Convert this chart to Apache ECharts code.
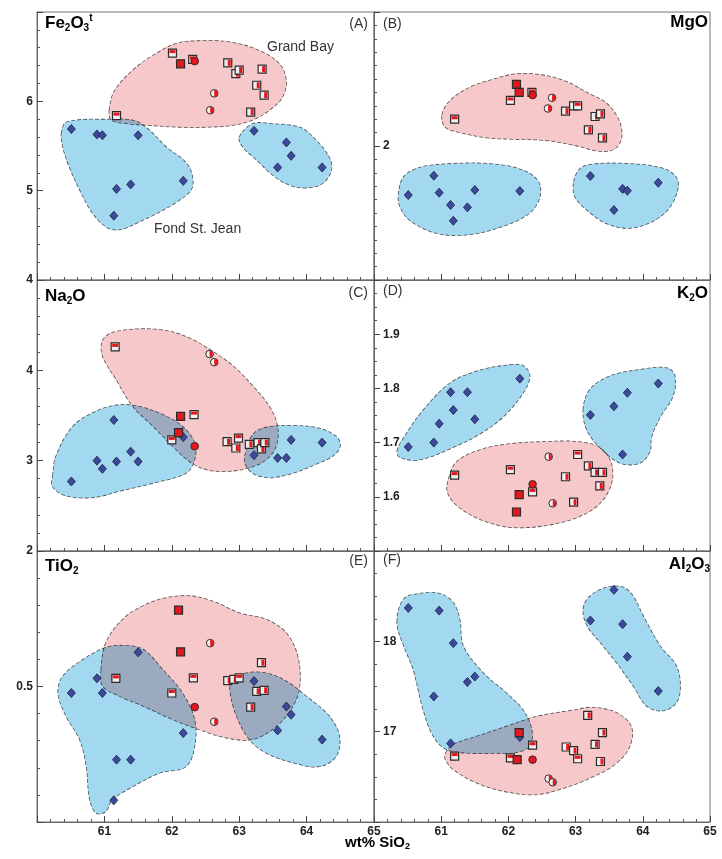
<!DOCTYPE html>
<html>
<head>
<meta charset="utf-8">
<script src="https://cdn.jsdelivr.net/npm/echarts@6.0.0/dist/echarts.min.js"></script>
<style>
  html, body { margin: 0; padding: 0; background: #fff; }
  #chart { width: 722px; height: 859px; }
</style>
</head>
<body>
<div id="chart"></div>
<script>
// Fond St. Jean samples (blue diamonds): one SiO2 value per sample, one array per oxide
const fsjSiO2  = [60.51, 60.89, 60.97, 61.14, 61.18, 61.39, 61.50, 62.17, 63.22, 63.57, 63.70, 63.77, 64.23];
const fsjFe2O3 = [5.69, 5.63, 5.62, 4.72, 5.02, 5.07, 5.62, 5.11, 5.67, 5.26, 5.54, 5.39, 5.26];
const fsjMgO   = [1.817, 1.889, 1.826, 1.78, 1.721, 1.771, 1.836, 1.832, 1.888, 1.761, 1.840, 1.833, 1.863];
const fsjNa2O  = [2.77, 3.00, 2.91, 3.45, 2.99, 3.10, 2.99, 3.26, 3.06, 3.03, 3.03, 3.23, 3.20];
const fsjK2O   = [1.692, 1.70, 1.735, 1.793, 1.76, 1.793, 1.743, 1.818, 1.751, 1.767, 1.678, 1.792, 1.809];
const fsjTiO2  = [0.488, 0.515, 0.488, 0.29, 0.365, 0.365, 0.563, 0.414, 0.51, 0.419, 0.463, 0.448, 0.402];
const fsjAl2O3 = [18.37, 17.39, 18.34, 16.87, 17.98, 17.55, 17.61, 16.94, 18.23, 18.57, 18.19, 17.83, 17.45];

// Grand Bay samples: [SiO2, oxide, marker]  F = red square, V = right half red, H = top half red, C = red circle, c = half circle
const gbFe2O3 = [[61.18,5.84,'H'],[62.01,6.54,'H'],[62.13,6.42,'F'],[62.31,6.47,'H'],[62.34,6.45,'C'],[62.57,5.90,'c'],[62.63,6.09,'c'],[62.83,6.43,'V'],[62.95,6.31,'V'],[63.00,6.35,'V'],[63.17,5.88,'V'],[63.26,6.18,'V'],[63.34,6.36,'V'],[63.37,6.07,'V']];
const gbMgO   = [[61.20,2.10,'H'],[62.03,2.17,'H'],[62.12,2.23,'F'],[62.16,2.20,'F'],[62.35,2.20,'H'],[62.36,2.19,'C'],[62.59,2.14,'c'],[62.65,2.18,'c'],[62.85,2.13,'V'],[62.97,2.15,'V'],[63.03,2.15,'H'],[63.19,2.06,'V'],[63.29,2.11,'V'],[63.37,2.12,'V'],[63.40,2.03,'V']];
const gbNa2O  = [[61.16,4.26,'H'],[62.00,3.23,'H'],[62.10,3.31,'F'],[62.13,3.49,'F'],[62.33,3.51,'H'],[62.34,3.16,'C'],[62.56,4.18,'c'],[62.63,4.09,'c'],[62.82,3.21,'V'],[62.95,3.14,'V'],[62.99,3.25,'H'],[63.15,3.18,'V'],[63.28,3.20,'V'],[63.33,3.13,'V'],[63.38,3.20,'V']];
const gbK2O   = [[61.20,1.640,'H'],[62.03,1.650,'H'],[62.12,1.572,'F'],[62.16,1.604,'F'],[62.36,1.609,'H'],[62.36,1.623,'C'],[62.60,1.674,'c'],[62.66,1.588,'c'],[62.85,1.637,'V'],[62.97,1.590,'V'],[63.03,1.678,'H'],[63.19,1.657,'V'],[63.29,1.645,'V'],[63.36,1.620,'V'],[63.40,1.645,'V']];
const gbTiO2  = [[61.17,0.515,'H'],[62.00,0.488,'H'],[62.10,0.641,'F'],[62.13,0.564,'F'],[62.32,0.516,'H'],[62.34,0.462,'C'],[62.57,0.580,'c'],[62.63,0.435,'c'],[62.83,0.511,'V'],[62.92,0.513,'V'],[63.00,0.516,'H'],[63.17,0.462,'V'],[63.26,0.491,'V'],[63.33,0.544,'V'],[63.37,0.493,'V']];
const gbAl2O3 = [[61.20,16.73,'H'],[62.03,16.71,'H'],[62.13,16.69,'F'],[62.16,16.99,'F'],[62.36,16.85,'H'],[62.36,16.69,'C'],[62.60,16.48,'c'],[62.66,16.44,'c'],[62.86,16.83,'V'],[62.97,16.79,'V'],[63.03,16.70,'H'],[63.18,17.18,'V'],[63.29,16.86,'V'],[63.37,16.67,'V'],[63.40,16.99,'V']];

// field outlines, in data units
const feBlueL = [[60.36,5.64],[60.44,5.77],[61.08,5.80],[61.42,5.79],[61.62,5.71],[61.92,5.49],[62.22,5.31],[62.31,5.15],[62.29,5.01],[62.11,4.89],[61.82,4.76],[61.52,4.65],[61.22,4.56],[61.03,4.59],[60.82,4.75],[60.63,5.01],[60.48,5.26],[60.38,5.49]];
const feBlueR = [[63.00,5.60],[63.20,5.75],[63.49,5.75],[63.90,5.71],[64.15,5.56],[64.34,5.37],[64.37,5.23],[64.24,5.08],[64.00,5.03],[63.75,5.06],[63.50,5.17],[63.26,5.34],[63.05,5.49]];
const fePink  = [[61.07,5.90],[61.15,6.12],[61.42,6.35],[61.71,6.51],[62.07,6.65],[62.51,6.68],[62.90,6.66],[63.30,6.57],[63.60,6.42],[63.70,6.23],[63.64,6.04],[63.45,5.90],[63.20,5.79],[62.90,5.73],[62.51,5.71],[62.11,5.71],[61.67,5.73],[61.33,5.75],[61.10,5.79]];

const mgBlueL = [[60.36,1.817],[60.44,1.885],[60.68,1.92],[61.18,1.935],[61.78,1.933],[62.22,1.91],[62.45,1.867],[62.47,1.81],[62.32,1.75],[61.92,1.70],[61.38,1.668],[60.93,1.674],[60.54,1.72],[60.39,1.77]];
const mgBlueR = [[62.97,1.867],[63.07,1.917],[63.26,1.933],[63.76,1.935],[64.26,1.92],[64.48,1.89],[64.53,1.848],[64.40,1.77],[64.16,1.72],[63.81,1.693],[63.46,1.71],[63.17,1.76],[62.99,1.81]];
const mgPink  = [[61.01,2.116],[61.13,2.17],[61.43,2.22],[61.78,2.25],[62.12,2.27],[62.52,2.265],[62.87,2.24],[63.17,2.20],[63.46,2.16],[63.64,2.10],[63.69,2.035],[63.59,1.99],[63.36,1.98],[63.02,2.00],[62.57,2.02],[62.07,2.025],[61.68,2.03],[61.28,2.05],[61.06,2.07]];

const naBlueL = [[60.23,2.83],[60.28,3.05],[60.53,3.38],[60.88,3.55],[61.22,3.62],[61.52,3.60],[61.87,3.51],[62.16,3.38],[62.34,3.20],[62.34,3.01],[62.21,2.86],[61.72,2.75],[61.22,2.66],[60.83,2.59],[60.43,2.61],[60.23,2.71]];
const naBlueR = [[63.08,3.05],[63.20,3.29],[63.40,3.37],[63.80,3.39],[64.19,3.36],[64.44,3.27],[64.50,3.16],[64.39,3.05],[64.14,2.96],[63.80,2.86],[63.45,2.81],[63.20,2.86],[63.09,2.96]];
const naPink  = [[60.97,4.33],[61.12,4.42],[61.52,4.46],[61.92,4.44],[62.26,4.36],[62.61,4.21],[62.91,4.05],[63.20,3.83],[63.45,3.60],[63.57,3.38],[63.55,3.16],[63.40,3.01],[63.15,2.92],[62.81,2.88],[62.51,2.90],[62.26,2.99],[62.01,3.16],[61.72,3.38],[61.42,3.60],[61.17,3.90],[60.97,4.16]];

const kBlueL = [[60.34,1.684],[60.44,1.709],[60.73,1.760],[61.13,1.810],[61.53,1.832],[61.97,1.843],[62.22,1.842],[62.32,1.823],[62.22,1.791],[61.92,1.747],[61.58,1.716],[61.18,1.691],[60.68,1.668],[60.39,1.672]];
const kBlueR = [[63.11,1.760],[63.21,1.798],[63.51,1.823],[63.96,1.835],[64.36,1.838],[64.48,1.823],[64.45,1.785],[64.26,1.747],[64.13,1.709],[64.11,1.684],[63.96,1.662],[63.66,1.662],[63.36,1.691],[63.17,1.722]];
const kPink  = [[61.11,1.634],[61.23,1.665],[61.58,1.687],[62.02,1.698],[62.57,1.702],[63.02,1.702],[63.36,1.691],[63.54,1.659],[63.51,1.615],[63.26,1.577],[62.77,1.552],[62.07,1.543],[61.58,1.558],[61.23,1.584],[61.09,1.609]];

const tiBlueL = [[60.31,0.488],[60.38,0.519],[60.68,0.550],[61.02,0.572],[61.27,0.576],[61.57,0.569],[61.87,0.531],[62.16,0.488],[62.34,0.439],[62.34,0.389],[62.21,0.352],[61.82,0.340],[61.42,0.315],[61.12,0.291],[61.02,0.269],[60.88,0.266],[60.78,0.291],[60.73,0.352],[60.63,0.402],[60.43,0.445]];
const tiBlueR = [[62.86,0.494],[62.91,0.513],[63.10,0.525],[63.40,0.525],[63.70,0.510],[64.00,0.482],[64.34,0.445],[64.49,0.408],[64.44,0.371],[64.19,0.352],[63.80,0.359],[63.40,0.377],[63.15,0.402],[62.96,0.445]];
const tiPink  = [[60.95,0.531],[61.02,0.581],[61.27,0.624],[61.57,0.649],[61.92,0.664],[62.31,0.667],[62.66,0.655],[63.00,0.636],[63.40,0.624],[63.70,0.599],[63.87,0.556],[63.90,0.501],[63.80,0.464],[63.55,0.426],[63.20,0.402],[62.81,0.405],[62.41,0.420],[62.01,0.439],[61.57,0.464],[61.22,0.482],[60.97,0.501]];

const alBlueL = [[60.34,18.21],[60.44,18.47],[60.68,18.53],[60.98,18.53],[61.18,18.43],[61.28,18.24],[61.33,17.95],[61.63,17.65],[61.97,17.43],[62.22,17.24],[62.35,17.02],[62.32,16.84],[62.12,16.77],[61.78,16.76],[61.43,16.76],[61.08,16.80],[60.88,16.95],[60.73,17.24],[60.58,17.69],[60.44,17.95]];
const alBlueR = [[63.11,18.36],[63.21,18.50],[63.46,18.60],[63.71,18.60],[63.86,18.50],[64.01,18.28],[64.26,17.95],[64.50,17.73],[64.56,17.50],[64.50,17.32],[64.30,17.23],[64.06,17.28],[63.86,17.50],[63.61,17.76],[63.36,17.99],[63.17,18.17]];
const alPink  = [[61.06,16.76],[61.18,16.86],[61.53,16.95],[61.97,17.06],[62.42,17.17],[62.97,17.24],[63.26,17.27],[63.61,17.21],[63.83,17.06],[63.81,16.84],[63.61,16.65],[63.26,16.50],[62.77,16.36],[62.37,16.30],[61.92,16.34],[61.53,16.43],[61.18,16.58],[61.06,16.69]];

const BLUE = '#a2d9f1';
const PINK = '#f6c8ca';
const RED = '#e5161e';
const EDGE = '#2b2b2b';

const panels = [
  { fsj: fsjFe2O3, gb: gbFe2O3, blobs: [[feBlueL, BLUE], [feBlueR, BLUE], [fePink, PINK]], y: [4, 7, 1, 5], col: 0, row: 0 },
  { fsj: fsjMgO,   gb: gbMgO,   blobs: [[mgBlueL, BLUE], [mgBlueR, BLUE], [mgPink, PINK]], y: [1.5, 2.5, 0.5, 10], col: 1, row: 0 },
  { fsj: fsjNa2O,  gb: gbNa2O,  blobs: [[naBlueL, BLUE], [naBlueR, BLUE], [naPink, PINK]], y: [2, 5, 1, 5], col: 0, row: 1 },
  { fsj: fsjK2O,   gb: gbK2O,   blobs: [[kBlueL, BLUE], [kBlueR, BLUE], [kPink, PINK]], y: [1.5, 2.0, 0.1, 4], col: 1, row: 1 },
  { fsj: fsjTiO2,  gb: gbTiO2,  blobs: [[tiBlueL, BLUE], [tiBlueR, BLUE], [tiPink, PINK]], y: [0.25, 0.75, 0.25, 5], col: 0, row: 2 },
  { fsj: fsjAl2O3, gb: gbAl2O3, blobs: [[alBlueL, BLUE], [alBlueR, BLUE], [alPink, PINK]], y: [16, 19, 1, 4], col: 1, row: 2 }
];

const lefts = [37, 374], widths = [337, 336];
const tops = [12, 280, 551], heights = [268, 271, 271];
const FONT = 'Liberation Sans, Arial, sans-serif';

function blobItem(outline, fill) {
  return function (params, api) {
    if (params.dataIndex !== 0) return null;
    const pts = outline.map(v => api.coord(v));
    return {
      type: 'polygon',
      shape: { points: pts, smooth: 0.35 },
      style: { fill: fill, stroke: '#555', lineWidth: 0.8, lineDash: [4, 2] }
    };
  };
}

function markerItem(pts) {
  return function (params, api) {
    const p = pts[params.dataIndex];
    const c = api.coord([p[0], p[1]]);
    const x = c[0], y = c[1], s = 8, h = s / 2;
    const kids = [];
    if (p[2] === 'C' || p[2] === 'c') {
      kids.push({ type: 'circle', shape: { cx: x, cy: y, r: 3.8 }, style: { fill: p[2] === 'C' ? RED : '#f2f2f2', stroke: EDGE, lineWidth: 1 } });
      if (p[2] === 'c') {
        kids.push({ type: 'sector', shape: { cx: x, cy: y, r0: 0, r: 3.3, startAngle: -Math.PI / 2, endAngle: Math.PI / 2 }, style: { fill: RED } });
      }
    } else {
      kids.push({ type: 'rect', shape: { x: x - h, y: y - h, width: s, height: s }, style: { fill: p[2] === 'F' ? RED : '#eeeeee', stroke: EDGE, lineWidth: 1.2 } });
      if (p[2] === 'V') kids.push({ type: 'rect', shape: { x: x, y: y - h + 1, width: h - 1, height: s - 2 }, style: { fill: RED } });
      if (p[2] === 'H') kids.push({ type: 'rect', shape: { x: x - h + 1, y: y - h + 1, width: s - 2, height: h - 1 }, style: { fill: RED } });
    }
    return { type: 'group', children: kids };
  };
}

const grid = [], xAxis = [], yAxis = [], series = [];

panels.forEach((p, i) => {
  grid.push({
    left: lefts[p.col], top: tops[p.row], width: widths[p.col], height: heights[p.row],
    show: true, borderColor: '#777', borderWidth: 1, backgroundColor: 'transparent'
  });
  xAxis.push({
    gridIndex: i, type: 'value', min: 60, max: 65, interval: 1,
    axisLine: { lineStyle: { color: '#666', width: 1 } },
    axisTick: { inside: true, length: 6, lineStyle: { color: '#444' } },
    minorTick: { show: true, splitNumber: 5, length: 3, lineStyle: { color: '#555' } },
    splitLine: { show: false },
    axisLabel: {
      show: p.row === 2, showMinLabel: false, margin: 4,
      fontFamily: FONT, fontWeight: 'bold', fontSize: 12, color: '#222'
    }
  });
  yAxis.push({
    gridIndex: i, type: 'value', min: p.y[0], max: p.y[1], interval: p.y[2],
    axisLine: { lineStyle: { color: '#666', width: 1 } },
    axisTick: { inside: true, length: 6, lineStyle: { color: '#444' } },
    minorTick: { show: true, splitNumber: p.y[3], length: 3, lineStyle: { color: '#555' } },
    splitLine: { show: false },
    axisLabel: {
      inside: p.col === 1, margin: p.col === 1 ? 9 : 4,
      showMinLabel: p.col === 0 && p.row < 2, showMaxLabel: false,
      fontFamily: FONT, fontWeight: 'bold', fontSize: 12, color: '#222',
      formatter: v => String(+v.toFixed(2))
    }
  });
  p.blobs.forEach(b => {
    series.push({
      type: 'custom', xAxisIndex: i, yAxisIndex: i, z: 1, silent: true,
      blendMode: 'multiply',
      data: b[0], renderItem: blobItem(b[0], b[1])
    });
  });
  series.push({
    type: 'scatter', xAxisIndex: i, yAxisIndex: i, z: 3, silent: true,
    symbol: 'diamond', symbolSize: [8, 9],
    itemStyle: { color: '#3b4a9e', borderColor: '#1c1c3a', borderWidth: 0.8, opacity: 1 },
    data: fsjSiO2.map((x, k) => [x, p.fsj[k]])
  });
  series.push({
    type: 'custom', xAxisIndex: i, yAxisIndex: i, z: 4, silent: true,
    data: p.gb.map(g => [g[0], g[1]]), renderItem: markerItem(p.gb)
  });
});

const oxRich = {
  n: { fontFamily: FONT, fontSize: 17, fontWeight: 'bold', color: '#111', lineHeight: 20 },
  s: { fontFamily: FONT, fontSize: 10, fontWeight: 'bold', color: '#111', lineHeight: 6, verticalAlign: 'bottom' },
  p: { fontFamily: FONT, fontSize: 10, fontWeight: 'bold', color: '#111', lineHeight: 6, verticalAlign: 'top' }
};
const plain = { fontFamily: FONT, fontSize: 14, fill: '#333' };

function ox(pos, text) {
  return Object.assign({ type: 'text', style: { text: text, rich: oxRich } }, pos);
}
function tag(pos, text) {
  return Object.assign({ type: 'text', style: Object.assign({ text: text }, plain) }, pos);
}

const graphic = [
  ox({ left: 45, top: 13 }, '{n|Fe}{s|2}{n|O}{s|3}{p|t}'),
  tag({ right: 354, top: 17 }, '(A)'),
  tag({ left: 267, top: 40 }, 'Grand Bay'),
  tag({ left: 154, top: 222 }, 'Fond St. Jean'),
  tag({ left: 383, top: 17 }, '(B)'),
  ox({ right: 14, top: 14 }, '{n|MgO}'),
  ox({ left: 45, top: 288 }, '{n|Na}{s|2}{n|O}'),
  tag({ right: 354, top: 286 }, '(C)'),
  tag({ left: 383, top: 284 }, '(D)'),
  ox({ right: 14, top: 285 }, '{n|K}{s|2}{n|O}'),
  ox({ left: 45, top: 558 }, '{n|TiO}{s|2}'),
  tag({ right: 354, top: 554 }, '(E)'),
  tag({ left: 383, top: 553 }, '(F)'),
  ox({ right: 12, top: 556 }, '{n|Al}{s|2}{n|O}{s|3}'),
  {
    type: 'text', left: 345, top: 835,
    style: {
      text: '{n|wt% SiO}{s|2}',
      rich: {
        n: { fontFamily: FONT, fontSize: 15, fontWeight: 'bold', color: '#222', lineHeight: 18 },
        s: { fontFamily: FONT, fontSize: 9, fontWeight: 'bold', color: '#222', lineHeight: 5, verticalAlign: 'bottom' }
      }
    }
  }
];

const chart = echarts.init(document.getElementById('chart'), null, { renderer: 'canvas' });
chart.setOption({
  animation: false,
  backgroundColor: '#fff',
  grid: grid,
  xAxis: xAxis,
  yAxis: yAxis,
  series: series,
  graphic: graphic
});
</script>
</body>
</html>
